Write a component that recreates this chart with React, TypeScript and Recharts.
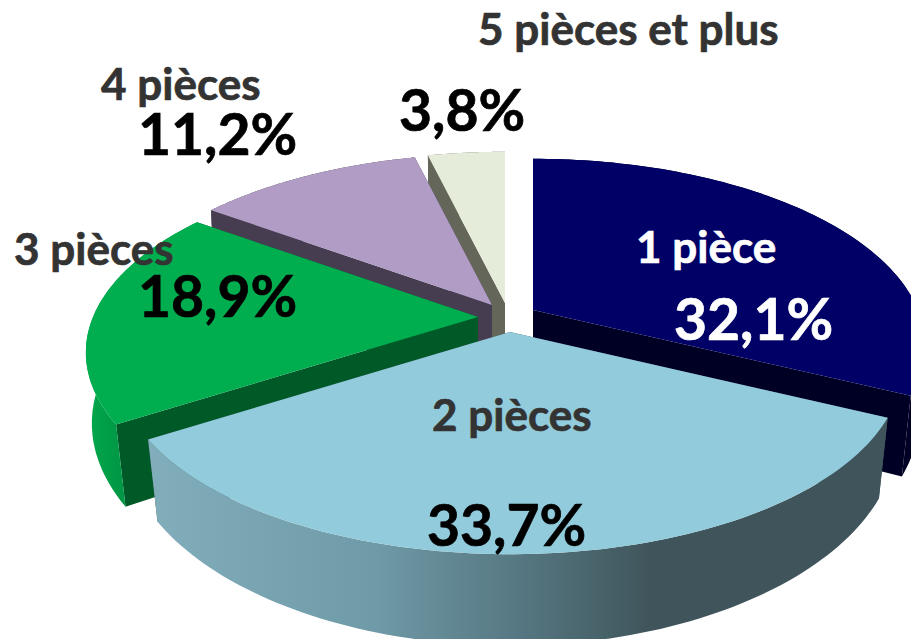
import { PieChart, Pie } from "recharts";

const categories = ["1 pièce", "2 pièces", "3 pièces", "4 pièces", "5 pièces et plus"];
const shares = [32.1, 33.7, 18.9, 11.2, 3.8];
const valueLabels = ["32,1%", "33,7%", "18,9%", "11,2%", "3,8%"];

// painter's order, back slices first
const drawOrder = [4, 3, 0, 2, 1];

const topColors = ["#000066", "#92cbdb", "#00ad4f", "#b09cc4", "#e6ecda"];
const edgeColors = ["#000024", "#3f555b", "#005a28", "#463e50", "#64665a"];
const rimColors = ["#000024", "url(#rimBlue)", "url(#rimGreen)", "#463e50", "#64665a"];

// how far each slice is pulled out of the pie
const explode = [
  [28, -10],
  [5, 12],
  [-27, -3],
  [-13, -15],
  [0, -17],
];

const nameAt = [
  [636, 263, "#ffffff"],
  [432, 431, "#333333"],
  [14, 265, "#333333"],
  [101, 100, "#333333"],
  [478, 45, "#333333"],
];
const valueAt = [
  [674, 340, "#ffffff"],
  [427, 546, "#000000"],
  [138, 317, "#000000"],
  [138, 155, "#000000"],
  [399, 131, "#000000"],
];

const data = categories.map((name, i) => ({ name, value: shares[i] }));

const TILT = 180;
const PERSP = 0.19;
const DEPTH = 74;

function rimPoint(ox: number, oy: number, radius: number, angle: number) {
  const a = ((90 - angle) * Math.PI) / 180;
  const side = Math.sin(a);
  const back = Math.cos(a);
  const p = 1 / (1 + PERSP * back);
  const x = side * radius * p;
  const y = -back * TILT * p;
  // the lower rim pulls in a little towards the viewer
  const inset = 0.99 + 0.03 * Math.min(back, 0);
  return {
    top: [ox + x, oy + y],
    bottom: [ox + x * inset, oy + y + DEPTH * p],
  };
}

const toPath = (pts: number[][]) =>
  "M" + pts.map((p) => p[0].toFixed(1) + "," + p[1].toFixed(1)).join("L") + "Z";

function Slice(props: any) {
  const { cx, cy, outerRadius, startAngle, endAngle, index, only } = props;
  if (index !== only) return null;
  const ox = cx + explode[index][0];
  const oy = cy + explode[index][1];
  const steps = 90;
  const rim = [];
  for (let s = 0; s <= steps; s++) {
    rim.push(rimPoint(ox, oy, outerRadius, startAngle + ((endAngle - startAngle) * s) / steps));
  }
  const first = rim[0];
  const last = rim[steps];
  const apexBottom = [ox, oy + DEPTH];
  return (
    <g>
      <path d={toPath([[ox, oy], first.top, first.bottom, apexBottom])} fill={edgeColors[index]} />
      <path d={toPath([[ox, oy], last.top, last.bottom, apexBottom])} fill={edgeColors[index]} />
      <path
        d={toPath([...rim.map((r) => r.top), ...rim.map((r) => r.bottom).reverse()])}
        fill={rimColors[index]}
      />
      <path d={toPath([[ox, oy], ...rim.map((r) => r.top)])} fill={topColors[index]} />
    </g>
  );
}

function SliceLabel({ index }: any) {
  const font = { fontFamily: "Lato, sans-serif", fontWeight: 700, strokeWidth: 0.7 };
  const nameColor = nameAt[index][2] as string;
  const valueColor = valueAt[index][2] as string;
  return (
    <g>
      <text x={nameAt[index][0]} y={nameAt[index][1]} fill={nameColor} stroke={nameColor} fontSize={44} {...font}>
        {categories[index]}
      </text>
      <text x={valueAt[index][0]} y={valueAt[index][1]} fill={valueColor} stroke={valueColor} fontSize={57} {...font}>
        {valueLabels[index]}
      </text>
    </g>
  );
}

export default function App() {
  const pieProps = {
    data,
    dataKey: "value",
    cx: 505,
    cy: 320,
    outerRadius: 385,
    startAngle: 90,
    endAngle: -270,
    stroke: "none",
    isAnimationActive: false,
    labelLine: false,
  };
  return (
    <div style={{ position: "absolute", left: 0, top: 0, width: 911, height: 639, overflow: "hidden", background: "#fff" }}>
      <PieChart width={911} height={639} margin={{ top: 0, right: 0, bottom: 0, left: 0 }}>
        <defs>
          <linearGradient id="rimBlue" gradientUnits="userSpaceOnUse" x1="148" y1="0" x2="650" y2="0">
            <stop offset="0%" stopColor="#82aebb" />
            <stop offset="45%" stopColor="#6f9aa7" />
            <stop offset="75%" stopColor="#557680" />
            <stop offset="100%" stopColor="#3f555b" />
          </linearGradient>
          <linearGradient id="rimGreen" gradientUnits="userSpaceOnUse" x1="85" y1="0" x2="125" y2="0">
            <stop offset="0%" stopColor="#00a84c" />
            <stop offset="100%" stopColor="#009644" />
          </linearGradient>
        </defs>
        {drawOrder.map((only) => {
          const draw = (p: any) => <Slice {...p} only={only} />;
          return <Pie key={only} {...pieProps} shape={draw} activeShape={draw} inactiveShape={draw} />;
        })}
        <Pie
          key="labels"
          {...pieProps}
          shape={() => null}
          activeShape={() => null}
          inactiveShape={() => null}
          label={(p: any) => <SliceLabel index={p.index} />}
        />
      </PieChart>
    </div>
  );
}
